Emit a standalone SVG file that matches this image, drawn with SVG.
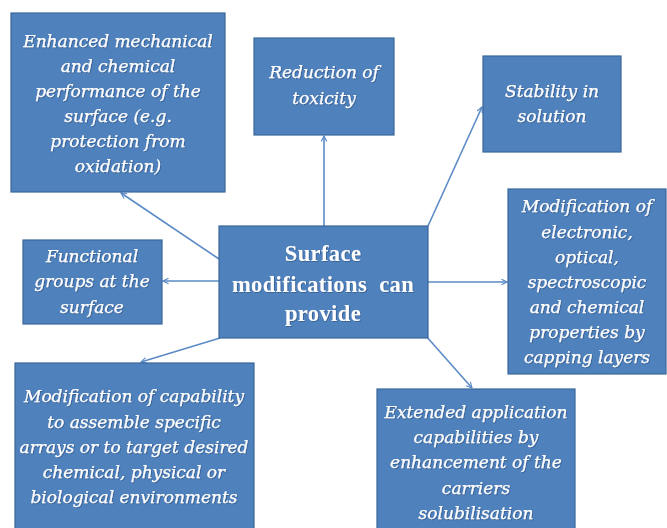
<svg xmlns="http://www.w3.org/2000/svg" width="667" height="528" viewBox="0 0 667 528">
  <style>
    .box { fill: #4F81BD; stroke: #3B6699; stroke-width: 1.2; }
    .lbl { font-family: "DejaVu Serif", "Liberation Serif", serif; font-style: italic; font-size: 17px; fill: #FFFFFF; stroke: #FFFFFF; stroke-width: 0.25; text-anchor: middle; filter: url(#shade); }
    .hub { font-family: "Liberation Serif", "DejaVu Serif", serif; font-weight: bold; font-size: 22.5px; letter-spacing: 0.4px; fill: #FFFFFF; text-anchor: middle; filter: url(#shade); }
    .link { stroke: #5B8BC6; stroke-width: 1.6; fill: none; marker-end: url(#arrow); }
  </style>
  <defs>
    <marker id="arrow" viewBox="0 0 10 10" refX="9" refY="5" markerWidth="7" markerHeight="7" markerUnits="userSpaceOnUse" orient="auto">
      <path d="M1,1 L9,5 L1,9" fill="none" stroke="#5B8BC6" stroke-width="1.6"/>
    </marker>
    <filter id="shade" x="-10%" y="-20%" width="120%" height="150%">
      <feDropShadow dx="0.8" dy="0.8" stdDeviation="0.6" flood-color="#22416B" flood-opacity="0.55"/>
    </filter>
  </defs>
  <rect width="667" height="528" fill="#FFFFFF"/>

  <g id="connectors">
    <line class="link" x1="219" y1="259" x2="121" y2="193"/>
    <line class="link" x1="324" y1="226" x2="324" y2="136"/>
    <line class="link" x1="428" y1="226" x2="482" y2="107"/>
    <line class="link" x1="219" y1="281" x2="163" y2="281"/>
    <line class="link" x1="428" y1="282" x2="507" y2="282"/>
    <line class="link" x1="426" y1="336" x2="472" y2="388"/>
    <line class="link" x1="220" y1="338" x2="141" y2="362"/>
  </g>

  <g id="hub">
    <rect class="box" x="219" y="226" width="209" height="112"/>
    <text class="hub" x="323" y="261">Surface</text>
    <text class="hub" x="323" y="292" xml:space="preserve">modifications  can</text>
    <text class="hub" x="323" y="321">provide</text>
  </g>

  <g id="mechanical">
    <rect class="box" x="11" y="13" width="214" height="179"/>
    <text class="lbl" x="118" y="47">Enhanced mechanical</text>
    <text class="lbl" x="118" y="72">and chemical</text>
    <text class="lbl" x="118" y="97">performance of the</text>
    <text class="lbl" x="118" y="122">surface (e.g.</text>
    <text class="lbl" x="118" y="147">protection from</text>
    <text class="lbl" x="118" y="172">oxidation)</text>
  </g>

  <g id="toxicity">
    <rect class="box" x="254" y="38" width="140" height="97"/>
    <text class="lbl" x="324" y="78">Reduction of</text>
    <text class="lbl" x="324" y="104">toxicity</text>
  </g>

  <g id="stability">
    <rect class="box" x="483" y="56" width="138" height="96"/>
    <text class="lbl" x="552" y="97">Stability in</text>
    <text class="lbl" x="552" y="122">solution</text>
  </g>

  <g id="functional">
    <rect class="box" x="23" y="240" width="139" height="84"/>
    <text class="lbl" x="92" y="262">Functional</text>
    <text class="lbl" x="92" y="287">groups at the</text>
    <text class="lbl" x="92" y="313">surface</text>
  </g>

  <g id="properties">
    <rect class="box" x="508" y="189" width="158" height="185"/>
    <text class="lbl" x="587" y="212">Modification of</text>
    <text class="lbl" x="587" y="238">electronic,</text>
    <text class="lbl" x="587" y="263">optical,</text>
    <text class="lbl" x="587" y="288">spectroscopic</text>
    <text class="lbl" x="587" y="313">and chemical</text>
    <text class="lbl" x="587" y="338">properties by</text>
    <text class="lbl" x="587" y="363">capping layers</text>
  </g>

  <g id="assembly">
    <rect class="box" x="15" y="363" width="239" height="170"/>
    <text class="lbl" x="134" y="402">Modification of capability</text>
    <text class="lbl" x="134" y="428">to assemble specific</text>
    <text class="lbl" x="134" y="453">arrays or to target desired</text>
    <text class="lbl" x="134" y="478">chemical, physical or</text>
    <text class="lbl" x="134" y="503">biological environments</text>
  </g>

  <g id="solubilisation">
    <rect class="box" x="377" y="389" width="198" height="144"/>
    <text class="lbl" x="476" y="418">Extended application</text>
    <text class="lbl" x="476" y="443">capabilities by</text>
    <text class="lbl" x="476" y="468">enhancement of the</text>
    <text class="lbl" x="476" y="494">carriers</text>
    <text class="lbl" x="476" y="519">solubilisation</text>
  </g>
</svg>
